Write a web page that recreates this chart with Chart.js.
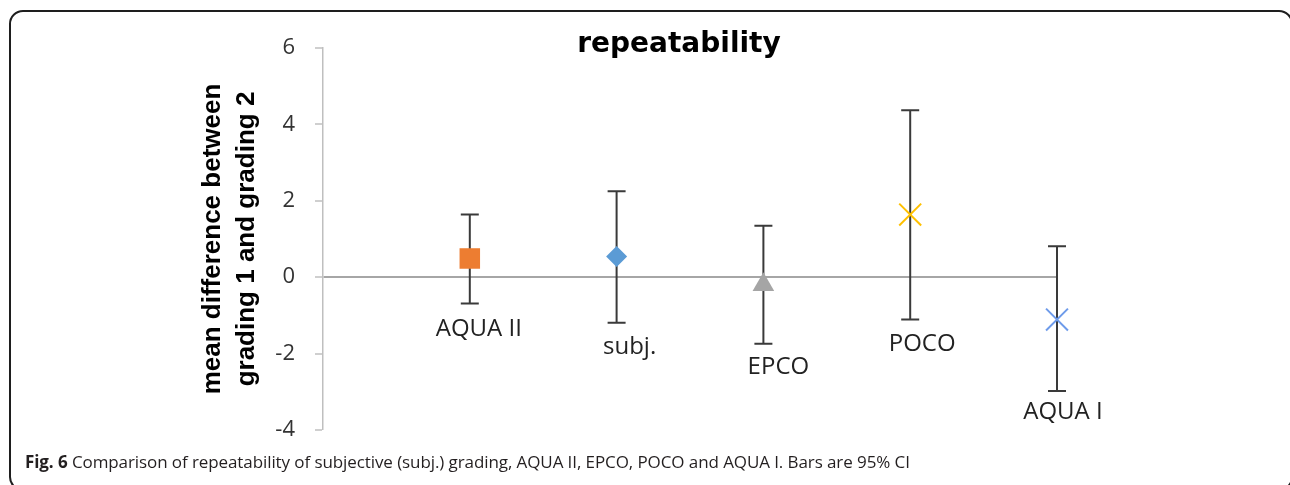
<!DOCTYPE html>
<html><head><meta charset="utf-8">
<script src="https://cdn.jsdelivr.net/npm/chart.js@4.4.1/dist/chart.umd.min.js"></script>
<style>
html,body{margin:0;padding:0;background:#fff;width:1290px;height:485px;overflow:hidden;}
#wrap{position:relative;width:1290px;height:485px;overflow:hidden;}
#frame{position:absolute;left:9px;top:10px;width:1284px;height:481px;border:2px solid #1e1e1e;border-radius:14px;box-sizing:border-box;}
canvas{position:absolute;left:0;top:0;}
#cap{position:absolute;left:25px;top:450px;font-family:'Open Sans';font-size:17px;letter-spacing:-0.09px;color:#231f20;white-space:nowrap;}
</style></head>
<body><div id="wrap"><div id="frame"></div><canvas id="c" width="1290" height="485"></canvas>
<div id="cap"><b>Fig. 6</b> Comparison of repeatability of subjective (subj.) grading, AQUA II, EPCO, POCO and AQUA I. Bars are 95% CI</div></div>
<script>
// ---- data ----
const categories = ['AQUA II', 'subj.', 'EPCO', 'POCO', 'AQUA I'];
const meanDiff   = [0.49, 0.54, -0.20, 1.64, -1.11];
const ciLower    = [-0.69, -1.19, -1.74, -1.11, -2.98];
const ciUpper    = [1.64, 2.25, 1.35, 4.37, 0.81];
const yTicks     = [-4, -2, 0, 2, 4, 6];
const chartTitle = 'repeatability';
const yTitle     = ['mean difference between', 'grading 1 and grading 2'];

// ---- styles ----
const markerStyle  = ['rect', 'rectRot', 'triangle', 'crossRot', 'crossRot'];
const markerRadius = [14.5, 10.5, 12.5, 15.5, 15.5];
const markerColor  = ['#ED7D31', '#5B9BD5', '#A5A5A5', '#FFC000', '#6E9BEA'];
const markerBorder = [0, 0, 0, 2, 2];
const labelOffset  = [[9, 71], [13, 91], [15, 82], [12, 130], [6, 93]];

const errorBarPlugin = {
  id: 'errorBars',
  beforeDatasetsDraw(chart) {
    const {ctx, scales: {x, y}} = chart;
    ctx.save();
    ctx.strokeStyle = '#3a3a3a';
    ctx.lineWidth = 2;
    categories.forEach((c, i) => {
      const px = x.getPixelForValue(i + 1);
      const yl = y.getPixelForValue(ciLower[i]);
      const yu = y.getPixelForValue(ciUpper[i]);
      const cap = 9;
      ctx.beginPath();
      ctx.moveTo(px, yl); ctx.lineTo(px, yu);
      ctx.moveTo(px - cap, yl); ctx.lineTo(px + cap, yl);
      ctx.moveTo(px - cap, yu); ctx.lineTo(px + cap, yu);
      ctx.stroke();
    });
    ctx.restore();
  }
};

const textPlugin = {
  id: 'texts',
  afterDatasetsDraw(chart) {
    const {ctx, scales: {x, y}} = chart;
    ctx.save();
    ctx.fillStyle = '#222';
    ctx.font = '24px "Open Sans"';
    ctx.textAlign = 'center';
    ctx.textBaseline = 'middle';
    categories.forEach((c, i) => {
      const px = x.getPixelForValue(i + 1);
      const py = y.getPixelForValue(meanDiff[i]);
      ctx.fillText(c, px + labelOffset[i][0], py + labelOffset[i][1]);
    });
    ctx.fillStyle = '#000';
    ctx.font = 'bold 28px "DejaVu Sans"';
    ctx.fillText(chartTitle, 679, 45);
    ctx.restore();
  }
};

new Chart(document.getElementById('c'), {
  type: 'scatter',
  data: {
    datasets: [{
      data: categories.map((c, i) => ({x: i + 1, y: meanDiff[i]})),
      pointStyle: markerStyle,
      pointRadius: markerRadius,
      pointHoverRadius: markerRadius,
      backgroundColor: markerColor,
      borderColor: markerColor,
      borderWidth: markerBorder,
      showLine: false,
      clip: false
    }]
  },
  options: {
    responsive: false,
    animation: false,
    events: [],
    layout: {padding: {left: 190, right: 233, top: 48, bottom: 55}},
    plugins: {legend: {display: false}, tooltip: {enabled: false}, title: {display: false}},
    scales: {
      x: {type: 'linear', min: 0, max: categories.length, display: false},
      y: {
        min: yTicks[0], max: yTicks[yTicks.length - 1],
        afterBuildTicks: s => { s.ticks = yTicks.map(v => ({value: v})); },
        afterFit: s => { s.width = 133; },
        ticks: {padding: 20, color: '#333', font: {family: 'Open Sans', size: 22}},
        grid: {
          color: c => (c.tick && c.tick.value === 0) ? '#A6A6A6' : 'rgba(0,0,0,0)',
          lineWidth: c => (c.tick && c.tick.value === 0) ? 2 : 0,
          tickColor: '#BFBFBF', tickWidth: 1.5, tickLength: 8, drawTicks: true
        },
        border: {display: true, color: '#BFBFBF', width: 1.5},
        title: {display: true, text: yTitle, color: '#000',
          font: {family: 'Liberation Sans', size: 26, weight: 'bold', lineHeight: 1.3},
          padding: {top: 6, bottom: 0}}
      }
    }
  },
  plugins: [errorBarPlugin, textPlugin]
});
</script>
</body></html>
